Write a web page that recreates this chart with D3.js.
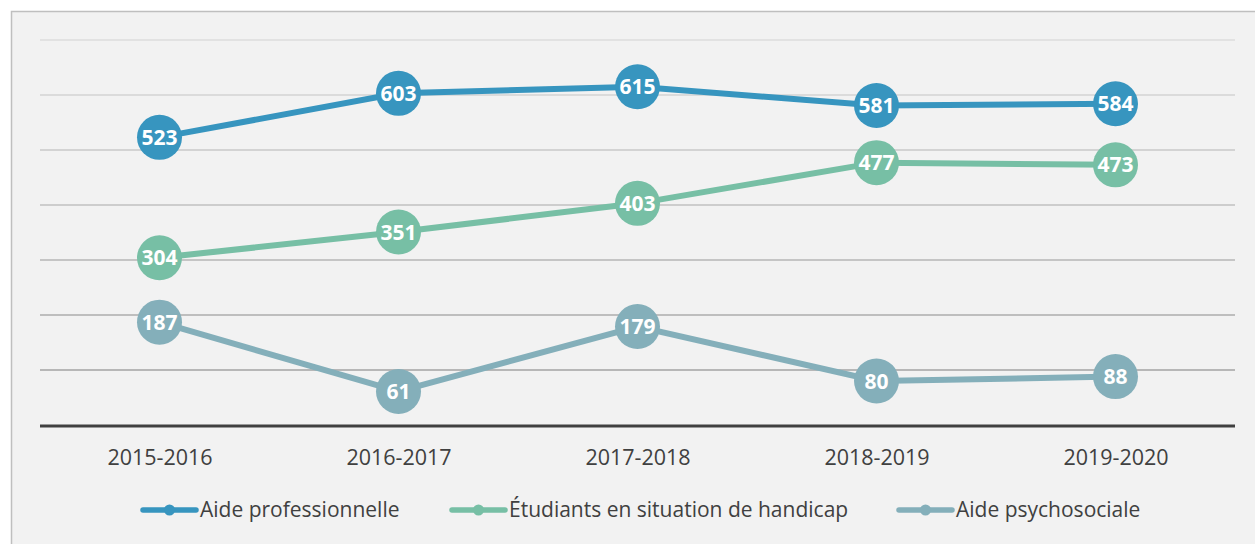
<!DOCTYPE html>
<html>
<head>
<meta charset="utf-8">
<script src="https://cdn.jsdelivr.net/npm/d3@7"></script>
<style>
  html, body { margin: 0; padding: 0; background: #fff; }
  svg { display: block; font-family: "Open Sans", "Noto Sans", sans-serif; }
</style>
</head>
<body>
<svg width="1255" height="544"></svg>
<script>
// donnees
var years = ["2015-2016", "2016-2017", "2017-2018", "2018-2019", "2019-2020"];
var seriesNames = ["Aide professionnelle", "Étudiants en situation de handicap", "Aide psychosociale"];
var aidePro = [523, 603, 615, 581, 584];
var handicap = [304, 351, 403, 477, 473];
var psycho = [187, 61, 179, 80, 88];
var gridTicks = [100, 200, 300, 400, 500, 600, 700];

var colors = ["#3795bf", "#77bfa5", "#84afba"];
var series = [aidePro, handicap, psycho];

var svg = d3.select("svg");

// cadre
svg.append("rect")
   .attr("x", 11.5).attr("y", 11.5)
   .attr("width", 1260).attr("height", 540)
   .attr("fill", "#f2f2f2")
   .attr("stroke", "#bfbfbf")
   .attr("stroke-width", 1.5);

// echelles
var x = d3.scalePoint().domain(years).range([40, 1235]).padding(0.5);
var y = d3.scaleLinear().domain([0, 700]).range([425, 40]);

// grille (de plus en plus foncee vers le bas)
var gridColor = d3.scaleLinear().domain([700, 100]).range(["#dcdcdc", "#a3a3a3"]);
svg.selectAll("line.grid")
   .data(gridTicks)
   .enter()
   .append("line")
   .attr("class", "grid")
   .attr("x1", 40).attr("x2", 1235)
   .attr("y1", function(d){ return y(d); })
   .attr("y2", function(d){ return y(d); })
   .attr("stroke", function(d){ return gridColor(d); })
   .attr("stroke-width", 1.3);

// axe x
var xAxis = svg.append("g")
   .attr("transform", "translate(0," + (y(0) + 1) + ")")
   .call(d3.axisBottom(x).tickSize(0).tickPadding(24));
xAxis.select(".domain").remove();
xAxis.append("line")
   .attr("x1", 40).attr("x2", 1235)
   .attr("stroke", "#404040")
   .attr("stroke-width", 3);
xAxis.selectAll(".tick text")
   .attr("font-size", "21.5px")
   .attr("font-family", "Open Sans")
   .attr("fill", "#404040");

// lignes
var line = d3.line()
   .x(function(d, i){ return x(years[i]); })
   .y(function(d){ return y(d); });

series.forEach(function(s, k)
{
	svg.append("path")
	   .datum(s)
	   .attr("fill", "none")
	   .attr("stroke", colors[k])
	   .attr("stroke-width", 6)
	   .attr("d", line);

	var pts = svg.selectAll("g.pt" + k)
	   .data(s)
	   .enter()
	   .append("g")
	   .attr("class", "pt" + k)
	   .attr("transform", function(d, i){ return "translate(" + x(years[i]) + "," + y(d) + ")"; });

	pts.append("circle")
	   .attr("r", 22.5)
	   .attr("fill", colors[k]);

	pts.append("text")
	   .attr("text-anchor", "middle")
	   .attr("dy", "0.36em")
	   .attr("font-size", "21px")
	   .attr("font-weight", "bold")
	   .attr("fill", "#fff")
	   .text(function(d){ return d; });
});

// legende
var legendX = [141, 450, 897];
var legend = svg.selectAll("g.legend")
   .data(seriesNames)
   .enter()
   .append("g")
   .attr("class", "legend")
   .attr("transform", function(d, i){ return "translate(" + legendX[i] + ",510)"; });

legend.append("line")
   .attr("x1", 2).attr("x2", 55)
   .attr("stroke", function(d, i){ return colors[i]; })
   .attr("stroke-width", 5.5)
   .attr("stroke-linecap", "round");
legend.append("circle")
   .attr("cx", 28.5)
   .attr("r", 5.5)
   .attr("fill", function(d, i){ return colors[i]; });
legend.append("text")
   .attr("x", 59)
   .attr("dy", "0.35em")
   .attr("font-size", "21px")
   .attr("fill", "#404040")
   .text(function(d){ return d; });
</script>
</body>
</html>
